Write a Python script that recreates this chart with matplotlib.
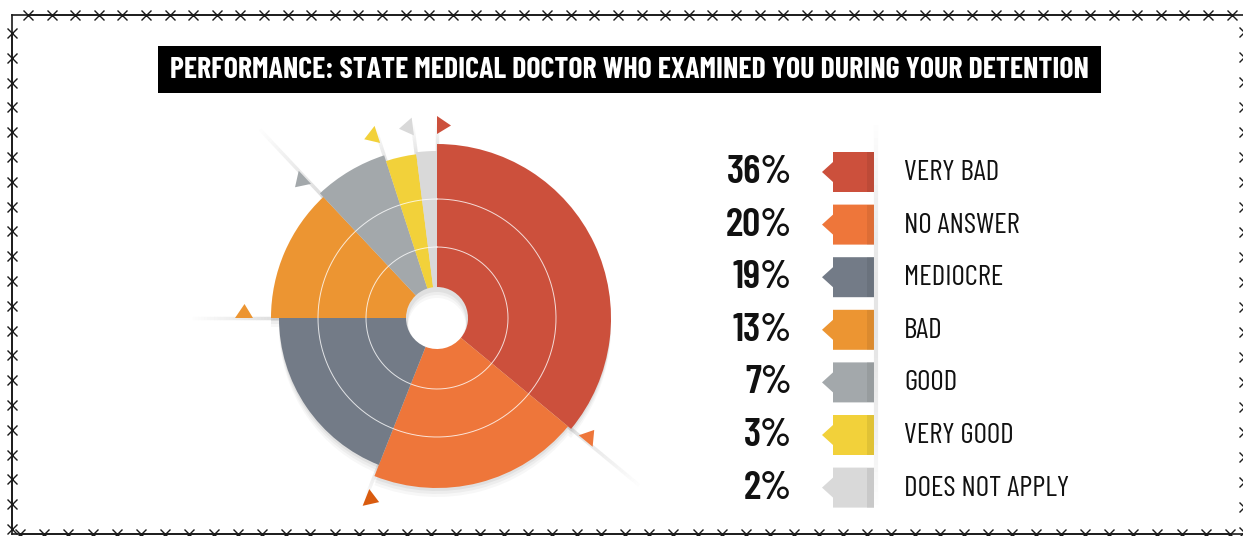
"""
Performance of the state medical doctor: rose-style donut with a tag legend.
"""
import numpy as np
import matplotlib
matplotlib.use('Agg')
import matplotlib.pyplot as plt
from matplotlib.patches import Polygon, Rectangle
from matplotlib.collections import LineCollection

# Data.
title = 'PERFORMANCE: STATE MEDICAL DOCTOR WHO EXAMINED YOU DURING YOUR DETENTION'
categories = ['VERY BAD', 'NO ANSWER', 'MEDIOCRE', 'BAD', 'GOOD',
              'VERY GOOD', 'DOES NOT APPLY']
shares = [36, 20, 19, 13, 7, 3, 2]

# Styling.
colors = ['#cc503c', '#ee763a', '#737b87', '#ec9532', '#a3a8ab',
          '#f2d13a', '#d9d9d9']
outer_r = [174, 170, 158, 166, 171, 165, 167]      # px, design only
tri_colors = ['#cc503c', '#ee763a', '#d95b0f', '#ec9532', '#a3a8ab',
              '#f2d13a', '#d9d9d9']
tri_dir = [1, -1, -1, 1, -1, -1, -1]
ray_end = [196, 266, 196, 248, 262, 200, 196]
HOLE = 31
W, H = 1243, 536
CX, CY, R = 437, 318, 280

# Narrow face first, DejaVu as the fallback.
FAM = ['Barlow Condensed', 'Liberation Sans Narrow', 'DejaVu Sans']

fig = plt.figure(figsize=(W / 100, H / 100), dpi=100)
bg = fig.add_axes([0, 0, 1, 1])
bg.set_xlim(0, W)
bg.set_ylim(H, 0)
bg.axis('off')


def polarAxes(cx, cy, zorder):
    ax = fig.add_axes([(cx - R) / W, (H - cy - R) / H, 2 * R / W, 2 * R / H],
                      projection='polar', zorder=zorder)
    ax.set_theta_zero_location('N')
    ax.set_theta_direction(-1)
    ax.set_ylim(0, R)
    ax.axis('off')
    return ax


# Angular layout of the wedges.
widths = 2 * np.pi * np.array(shares) / 100
starts = np.concatenate([[0], np.cumsum(widths)[:-1]])
radii = np.array(outer_r)

# Soft drop shadow below the wheel.
for dy, a in [(3, 0.05), (6, 0.04), (9, 0.03)]:
    sax = polarAxes(CX, CY + dy, 1)
    sax.bar(starts, radii - HOLE + 2, width=widths, bottom=HOLE - 2,
            align='edge', color='k', alpha=a, lw=0)

ax = polarAxes(CX, CY, 2)

# Rays from each wedge start out to its marker.
for th, r0, r1 in zip(starts, radii, ray_end):
    rr = np.linspace(r0 - 10, r1, 31)
    segs = [[(th, rr[k]), (th, rr[k + 1])] for k in range(30)]
    al = np.linspace(0.35, 0.0, 30)
    lc = LineCollection(segs, colors=[(0.6, 0.6, 0.6, x) for x in al],
                        linewidths=2.5, zorder=1)
    ax.add_collection(lc)

ax.bar(starts, radii - HOLE, width=widths, bottom=HOLE, align='edge',
       color=colors, lw=0, zorder=2)

# Thin white guide rings.
tt = np.linspace(0, 2 * np.pi, 400)
for rc in [71, 119]:
    ax.plot(tt, np.full_like(tt, rc), color='white', lw=0.7, alpha=0.8,
            zorder=3)

# Small triangle markers at each wedge start.
for th, c, d in zip(starts, tri_colors, tri_dir):
    verts = [(th, 184), (th, 202), (th + d * 0.0725, 193)]
    ax.add_patch(Polygon(verts, closed=True, color=c, lw=0, zorder=4))

# Title bar.
bg.add_patch(Rectangle((158, 46), 943, 47, color='black', lw=0))
t = bg.text(629.5, 70, title, color='white', ha='center', va='center',
            fontsize=21, fontweight='bold', family=FAM)
fig.canvas.draw()
t.set_fontsize(21 * 918 / t.get_window_extent().width)

# Barbed wire frame.
wire = dict(color='#1a1a1a', lw=1.2, marker='x', ms=7, mew=1.0)
xs = np.arange(28, W + 10, 23.6)
bg.plot(xs, np.full_like(xs, 15), **wire)
xs = np.arange(20, W + 10, 24.2)
bg.plot(xs, np.full_like(xs, 534), **wire)
ys = np.arange(33, 534, 24.8)
bg.plot(np.full_like(ys, 12), ys, **wire)
ys = np.arange(32, 534, 25.0)
bg.plot(np.full_like(ys, 1244.5), ys, **wire)
bg.plot([12, W + 5], [15, 15], color='#1a1a1a', lw=1.2)
bg.plot([12, W + 5], [534, 534], color='#1a1a1a', lw=1.2)
bg.plot([12, 12], [15, 534], color='#1a1a1a', lw=1.2)

# Legend: tag swatches, percentages and labels.
yy = np.linspace(118, 512, 60)
segs = [[(876, yy[k]), (876, yy[k + 1])] for k in range(59)]
al = 0.5 * np.sin(np.linspace(0, np.pi, 59))
bg.add_collection(LineCollection(segs, colors=[(0.8, 0.8, 0.8, x) for x in al],
                                 linewidths=3))
for i, (lab, val, c) in enumerate(zip(categories, shares, colors)):
    yc = 172 + i * 52.6
    tag = [(874, yc - 20), (833, yc - 20), (833, yc - 10), (822, yc),
           (833, yc + 10), (833, yc + 20), (874, yc + 20)]
    bg.add_patch(Polygon(tag, closed=True, color=c, lw=0))
    bg.add_patch(Rectangle((867, yc - 20), 7, 40, color='k', alpha=0.07,
                           lw=0))
    bg.text(792, yc + 1, f'{val}%', ha='right', va='center', fontsize=29,
            fontweight='semibold', color='#111111', family=FAM)
    bg.text(904, yc + 1, lab, ha='left', va='center', fontsize=21,
            color='#111111', family=FAM)

fig.savefig('out.png', dpi=100)
